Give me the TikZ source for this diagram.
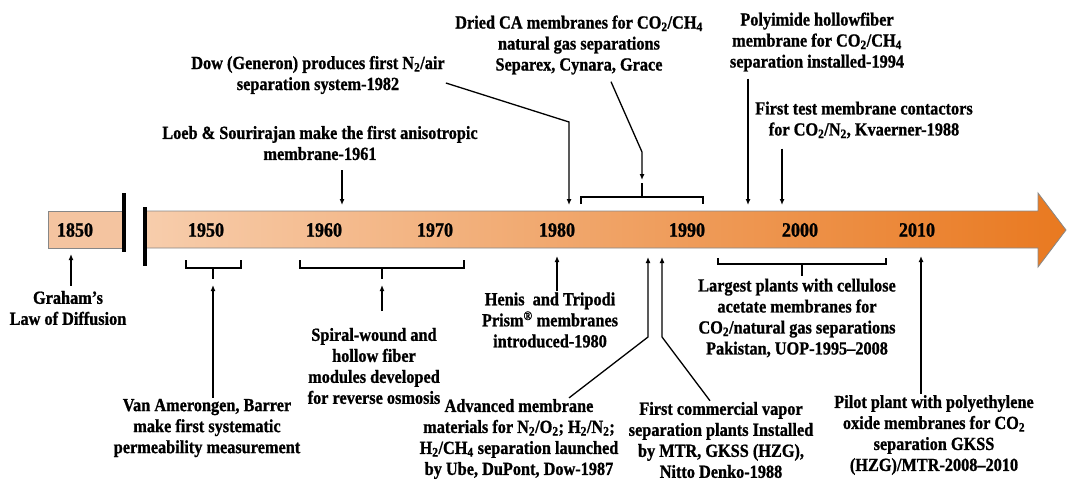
\documentclass[tikz,border=0pt]{standalone}
\usepackage{fontspec}
\setmainfont[FakeStretch=0.88, BoldFeatures={FakeBold=1}]{Liberation Serif}
\usepackage{xcolor}
\usepackage{tikz}
\usetikzlibrary{arrows.meta}
\definecolor{barlight}{RGB}{247,205,172}
\definecolor{barmid}{RGB}{241,160,94}
\definecolor{bardark}{RGB}{233,121,32}
\definecolor{oldbox}{RGB}{244,196,160}
\definecolor{barline}{RGB}{135,135,135}

\begin{document}
\begin{tikzpicture}[x=1pt, y=-1pt,
	lbl/.style={font=\bfseries\fontsize{18.5}{21}\selectfont, align=center, inner sep=1pt},
	yr/.style={font=\bfseries\fontsize{20.5}{24}\selectfont, inner sep=0pt},
	arr/.style={-{Latex[length=6pt,width=5pt]}, line width=1.3pt},
	brk/.style={line width=1.5pt},
	cut/.style={line width=3.2pt}]
	\useasboundingbox (0,0) rectangle (1067,480);
	% time bar
	\filldraw [fill=oldbox, draw=barline, line width=0.8pt] (48,211) rectangle (124,248);
	\shadedraw [left color=barlight, middle color=barmid, right color=bardark, draw=barline, line width=0.8pt]
		(145,211) -- (1038,211) -- (1038,193) -- (1066,230) -- (1038,267) -- (1038,248) -- (145,248) -- cycle;
	\draw [cut] (124,193) -- (124,252);
	\draw [cut] (145,207) -- (145,266);
	\node [yr] (y1850) at (75,230) {1850};
	\node [yr] (y1950) at (206,230) {1950};
	\node [yr] (y1960) at (324,230) {1960};
	\node [yr] (y1970) at (435,230) {1970};
	\node [yr] (y1980) at (557,230) {1980};
	\node [yr] (y1990) at (687,230) {1990};
	\node [yr] (y2000) at (800,230) {2000};
	\node [yr] (y2010) at (917,230) {2010};
	% events above
	\node [lbl] (dried) at (579,45) {Dried CA membranes for CO\textsubscript{2}/CH\textsubscript{4}\\natural gas separations\\Separex, Cynara, Grace};
	\node [lbl] (poly) at (817,42) {Polyimide hollowfiber\\membrane for CO\textsubscript{2}/CH\textsubscript{4}\\separation installed-1994};
	\node [lbl] (dow) at (318,75) {Dow (Generon) produces first N\textsubscript{2}/air\\separation system-1982};
	\node [lbl] (ftest) at (864,120) {First test membrane contactors\\for CO\textsubscript{2}/N\textsubscript{2}, Kvaerner-1988};
	\node [lbl] (loeb) at (320,143) {Loeb \& Sourirajan make the first anisotropic\\membrane-1961};
	% events below
	\node [lbl] (graham) at (68,308) {Graham's\\Law of Diffusion};
	\node [lbl] (spiral) at (374,366) {Spiral-wound and\\hollow fiber\\modules developed\\for reverse osmosis};
	\node [lbl] (vanam) at (207,428) {Van Amerongen, Barrer\\make first systematic\\permeability measurement};
	\node [lbl] (henis) at (550,320) {Henis\ \ and Tripodi\\Prism\textsuperscript{\textregistered} membranes\\introduced-1980};
	\node [lbl] (largest) at (797,318) {Largest plants with cellulose\\acetate membranes for\\CO\textsubscript{2}/natural gas separations\\Pakistan, UOP-1995--2008};
	\node [lbl] (advanced) at (519,439) {Advanced membrane\\materials for N\textsubscript{2}/O\textsubscript{2}; H\textsubscript{2}/N\textsubscript{2};\\H\textsubscript{2}/CH\textsubscript{4} separation launched\\by Ube, DuPont, Dow-1987};
	\node [lbl] (firstcom) at (721,440) {First commercial vapor\\separation plants Installed\\by MTR, GKSS (HZG),\\Nitto Denko-1988};
	\node [lbl] (pilot) at (934,435) {Pilot plant with polyethylene\\oxide membranes for CO\textsubscript{2}\\separation GKSS\\(HZG)/MTR-2008--2010};
	% connector ends
	\coordinate (loebtip) at (342,205);
	\coordinate (dowbend) at (569,122);
	\coordinate (dowtip) at (569,205);
	\coordinate (driedbend) at (642,152);
	\coordinate (driedtip) at (642,180);
	\coordinate (polytip) at (748,205);
	\coordinate (ftesttip) at (782,205);
	\coordinate (grahamtip) at (71,254);
	\coordinate (vanamtip) at (213,285);
	\coordinate (spiraltail) at (382,311);
	\coordinate (spiraltip) at (382,285);
	\coordinate (henistip) at (557,256);
	\coordinate (advbend) at (648,337);
	\coordinate (advtip) at (648,257);
	\coordinate (fcbend) at (662,337);
	\coordinate (fctip) at (662,257);
	\coordinate (pilottip) at (921,256);
	% brackets
	\draw [brk] (581,204) -- (581,197) -- (703,197) -- (703,204);
	\draw [brk] (642,197) -- (642,183);
	\draw [brk] (186,260) -- (186,268) -- (241,268) -- (241,260);
	\draw [brk] (213,268) -- (213,279);
	\draw [brk] (300,260) -- (300,268) -- (464,268) -- (464,260);
	\draw [brk] (382,268) -- (382,279);
	\draw [brk] (718,258) -- (718,264) -- (886,264) -- (886,258);
	\draw [brk] (802,264) -- (802,276);
	% arrows
	\draw [arr, shorten <=9pt] (loeb.south -| loebtip) -- (loebtip);
	\draw [arr] ([yshift=-8pt]dow.east) -- (dowbend) -- (dowtip);
	\draw [arr] ([xshift=32pt, yshift=-6pt]dried.south) -- (driedbend) -- (driedtip);
	\draw [arr, shorten <=6pt] (poly.south -| polytip) -- (polytip);
	\draw [arr, shorten <=9pt] (ftest.south -| ftesttip) -- (ftesttip);
	\draw [arr, shorten <=4pt] (graham.north -| grahamtip) -- (grahamtip);
	\draw [arr] (vanam.north -| vanamtip) -- (vanamtip);
	\draw [arr] (spiraltail) -- (spiraltip);
	\draw [arr] (henis.north -| henistip) -- (henistip);
	\draw [arr] ([xshift=50pt]advanced.north) -- (advbend) -- (advtip);
	\draw [arr] ([xshift=-11pt]firstcom.north) -- (fcbend) -- (fctip);
	\draw [arr] (pilot.north -| pilottip) -- (pilottip);
\end{tikzpicture}
\end{document}
